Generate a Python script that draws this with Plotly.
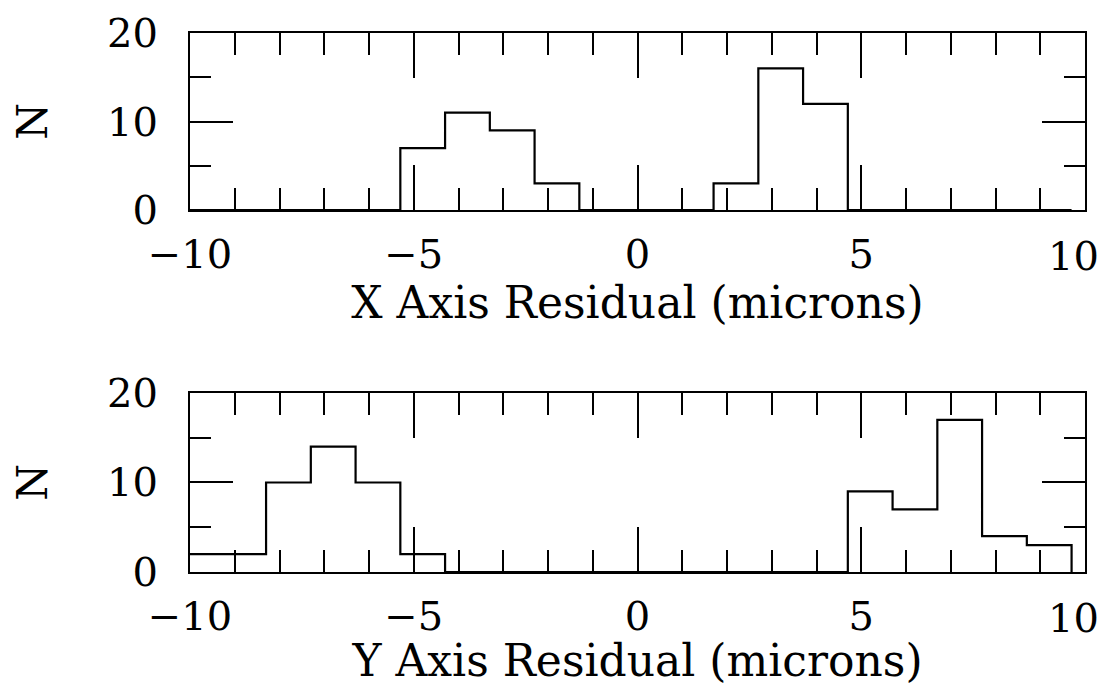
"""Residual histograms for X and Y axes (step style)."""

import plotly.graph_objects as go

# bin edges shared by both histograms (microns)
bin_edges = [-10.3, -9.3, -8.3, -7.3, -6.3, -5.3, -4.3, -3.3, -2.3, -1.3, -0.3,
             0.7, 1.7, 2.7, 3.7, 4.7, 5.7, 6.7, 7.7, 8.7, 9.7]

# counts per bin
x_counts = [0, 0, 0, 0, 0, 7, 11, 9, 3, 0, 0, 0, 3, 16, 12, 0, 0, 0, 0, 0]
y_counts = [2, 2, 10, 14, 10, 2, 0, 0, 0, 0, 0, 0, 0, 0, 0, 9, 7, 17, 4, 3]

x_ticks = [-10, -5, 0, 5, 10]
x_tick_labels = ["\u221210", "\u22125", "0", "5", "10"]
n_ticks = [0, 10, 20]

FONT = "DejaVu Serif"


def step_xy(edges, counts):
    # outline of a histogram: rise at first edge, drop at last edge
    xs = [edges[0]] + list(edges) + [edges[-1]]
    ys = [0] + list(counts) + [counts[-1], 0]
    return xs, ys


fig = go.Figure()

for counts, ax in [(x_counts, ""), (y_counts, "2")]:
    xs, ys = step_xy(bin_edges, counts)
    fig.add_trace(go.Scatter(
        x=xs, y=ys,
        mode="lines",
        line=dict(shape="hv", color="black", width=2.2),
        xaxis="x" + ax, yaxis="y" + ax,
        showlegend=False,
        hoverinfo="skip",
    ))

    # the last tick label sits a little left of its tick, as in the original
    fig.add_annotation(
        x=x_ticks[-1], y=0, xref="x" + ax, yref="y" + ax,
        text=x_tick_labels[-1],
        showarrow=False,
        xanchor="center", yanchor="middle",
        xshift=-12, yshift=-46,
        font=dict(family=FONT, size=40, color="black"),
    )

xaxis_style = dict(
    range=[-10, 10],
    tickvals=x_ticks,
    ticktext=x_tick_labels[:-1] + [""],
    ticks="inside",
    ticklen=45,
    tickwidth=1.5,
    tickcolor="black",
    minor=dict(dtick=1, ticks="inside", ticklen=22, tickwidth=1.5, tickcolor="black"),
    showline=True,
    linewidth=2,
    linecolor="black",
    mirror="allticks",
    showgrid=False,
    zeroline=False,
    automargin=False,
    ticklabelstandoff=8,
    tickfont=dict(family=FONT, size=40, color="black"),
)

yaxis_style = dict(
    range=[0, 20],
    tickvals=n_ticks,
    ticks="inside",
    ticklen=43,
    tickwidth=1.5,
    tickcolor="black",
    minor=dict(dtick=5, ticks="inside", ticklen=21, tickwidth=1.5, tickcolor="black"),
    showline=True,
    linewidth=2,
    linecolor="black",
    mirror="allticks",
    showgrid=False,
    zeroline=False,
    automargin=False,
    ticklabelstandoff=22,
    tickfont=dict(family=FONT, size=40, color="black"),
    title=dict(text="N", font=dict(family=FONT, size=42, color="black"), standoff=69),
)

# page body has an 8px margin, so the figure is a bit smaller than the window
fig.update_layout(
    width=1103,
    height=678,
    paper_bgcolor="white",
    plot_bgcolor="white",
    margin=dict(l=182, r=26, t=25, b=114, autoexpand=False),
    xaxis=dict(xaxis_style, anchor="y", domain=[0, 1],
               title=dict(text="X Axis Residual (microns)",
                          font=dict(family=FONT, size=44, color="black"), standoff=0)),
    yaxis=dict(yaxis_style, anchor="x", domain=[0.6716, 1]),
    xaxis2=dict(xaxis_style, anchor="y2", domain=[0, 1],
                title=dict(text="Y Axis Residual (microns)",
                           font=dict(family=FONT, size=44, color="black"), standoff=0)),
    yaxis2=dict(yaxis_style, anchor="x2", domain=[0, 0.3321]),
)

fig.write_html("out.html")
